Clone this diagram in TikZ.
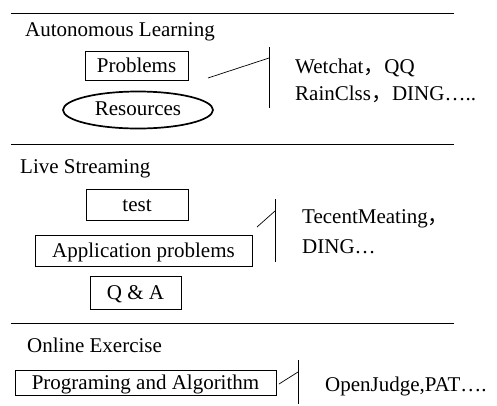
\documentclass[tikz,border=0pt]{standalone}
\usepackage{fontspec}
\setmainfont{Liberation Serif}
\newfontfamily\cjk{Noto Sans CJK SC}
\usepackage{tikz}
\usetikzlibrary{shapes,positioning}

\newcommand{\fwcomma}{{\cjk ，}}

\begin{document}
\begin{tikzpicture}[x=1pt, y=-1pt,
    box/.style={rectangle, draw=black, line width=0.8pt, inner sep=0pt, align=center, font=\fontsize{21}{24}\selectfont, text height=14pt, text depth=1pt},
    oval/.style={ellipse, draw=black, line width=1.7pt, inner sep=0pt, align=center, font=\fontsize{21}{24}\selectfont, text height=14pt, text depth=4pt},
    title/.style={anchor=base west, inner sep=0pt, font=\fontsize{21}{24}\selectfont},
    tool/.style={anchor=base west, inner sep=0pt, font=\fontsize{21}{24}\selectfont},
    rule/.style={draw=black, line width=0.8pt},
    link/.style={draw=black, line width=0.7pt}]

\useasboundingbox (0,0) rectangle (497,405);

% Autonomous Learning
\draw[rule] (11,13) -- (454,13);
\node[title] (al_title) at (25,36) {Autonomous Learning};
\node[box, minimum width=103pt, minimum height=29pt] (al_problems) at (136.5,65.5) {Problems};
\node[oval, minimum width=150pt, minimum height=37pt] (al_resources) at (138,110) {Resources};
\coordinate (al_bar_top) at (269,47);
\coordinate (al_bar_bot) at (269,108);
\coordinate (al_link) at (208,78);
\coordinate (al_join) at (269,58);
\draw[link] (al_bar_top) -- (al_bar_bot);
\draw[link] (al_link) -- (al_join);
\node[tool] (al_tools1) at (295,73) {Wetchat\fwcomma QQ};
\node[tool] (al_tools2) at (295,100) {RainClss\fwcomma DING…..};

% Live Streaming
\draw[rule] (11,144) -- (454,144);
\node[title] (ls_title) at (20,173) {Live Streaming};
\node[box, minimum width=102pt, minimum height=31pt] (ls_test) at (137,204.5) {test};
\node[box, minimum width=217pt, minimum height=31pt] (ls_app) at (143.5,250.5) {Application problems};
\node[box, minimum width=91pt, minimum height=33pt] (ls_qa) at (135.5,293) {Q \& A};
\coordinate (ls_bar_top) at (275,199);
\coordinate (ls_bar_bot) at (275,262);
\coordinate (ls_link) at (257,227);
\coordinate (ls_join) at (275,211);
\draw[link] (ls_bar_top) -- (ls_bar_bot);
\draw[link] (ls_link) -- (ls_join);
\node[tool] (ls_tools1) at (302,223) {TecentMeating\fwcomma};
\node[tool] (ls_tools2) at (302,253) {DING…};

% Online Exercise
\draw[rule] (11,323) -- (454,323);
\node[title] (oe_title) at (27,352) {Online Exercise};
\node[box, minimum width=261pt, minimum height=25pt] (oe_prog) at (145.5,382.5) {Programing and Algorithm};
\coordinate (oe_bar_top) at (298,360);
\coordinate (oe_bar_bot) at (298,404);
\coordinate (oe_link) at (279,384);
\coordinate (oe_join) at (298,372);
\draw[link] (oe_bar_top) -- (oe_bar_bot);
\draw[link] (oe_link) -- (oe_join);
\node[tool] (oe_tools) at (325,391) {OpenJudge,PAT….};

\end{tikzpicture}
\end{document}
